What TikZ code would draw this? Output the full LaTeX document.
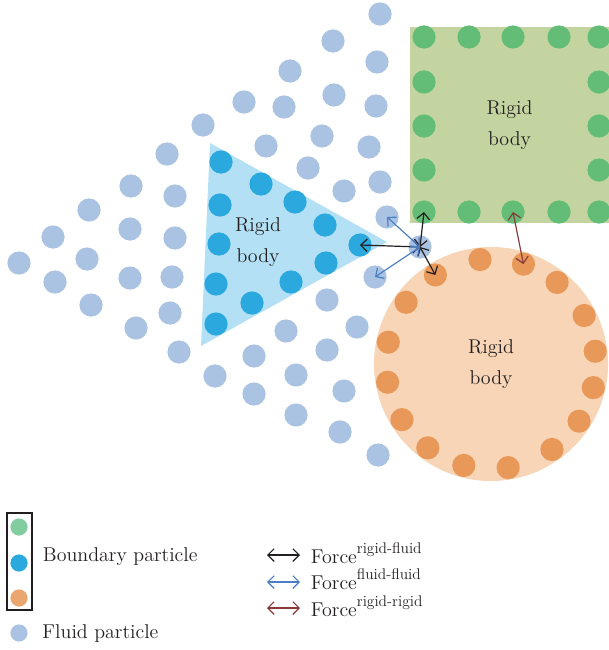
\documentclass[tikz,border=0pt]{standalone}
\usepackage{xcolor}
\usepackage{tikz}
\usetikzlibrary{calc,positioning,arrows.meta}
\definecolor{inkgray}{HTML}{231F20}
\definecolor{fluidblue}{HTML}{ABC3E3}
\definecolor{tricyan}{HTML}{2BA8DE}
\definecolor{trifill}{HTML}{B3E0F4}
\definecolor{boxfill}{HTML}{C3D4A0}
\definecolor{boxgreen}{HTML}{63BD76}
\definecolor{ringfill}{HTML}{F8D5B6}
\definecolor{ringorange}{HTML}{E8995A}
\definecolor{keygreen}{HTML}{82CCA0}
\definecolor{keyorange}{HTML}{EBA56E}
\definecolor{ffblue}{HTML}{4A7EC5}
\definecolor{rrred}{HTML}{8B3A3A}
\newcommand{\forcesup}[1]{Force\raisebox{7pt}{\fontsize{11}{12}\selectfont #1}}

\begin{document}
\begin{tikzpicture}[x=0.025cm, y=-0.025cm, font=\fontsize{14.2}{22}\selectfont, text=inkgray,
  part/.style={circle, inner sep=0pt, minimum size=5.8mm},
  fluidpt/.style={part, fill=fluidblue},
  tripart/.style={part, fill=tricyan},
  boxpart/.style={part, fill=boxgreen},
  ringpart/.style={part, fill=ringorange},
  keypart/.style={circle, inner sep=0pt, minimum size=4.3mm},
  forcetip/.style={line width=0.85pt, {Straight Barb[length=4.5pt,width=9pt]}-{Straight Barb[length=4.5pt,width=9pt]}},
  rfarrow/.style={forcetip, draw=inkgray},
  ffarrow/.style={forcetip, draw=ffblue},
  rrarrow/.style={forcetip, draw=rrred}]
  \useasboundingbox (0,0) rectangle (609,650);

  % rigid bodies
  \node[fill=boxfill, minimum width=4.975cm, minimum height=4.9cm, inner sep=0pt, align=center] (box) at (509.5,125) {Rigid\\body};
  \node[circle, fill=ringfill, minimum size=5.85cm, inner sep=0pt, align=center] (ring) at (491,364) {Rigid\\body};
  \coordinate (ta) at (210,143);
  \coordinate (tb) at (387,242);
  \coordinate (tc) at (201,346);
  \fill[trifill] (ta) -- (tb) -- (tc) -- cycle;
  \node[align=center] (tri) at (258,242) {Rigid\\body};

  % fluid particles
  \foreach \x/\y [count=\i] in {380/14,333/41,377/62,290/71,334/95,376/106,244/102,284/107,
      203/125,322/136,369/147,266/146,167/154,308/168,344/191,380/182,131/186,175/196,
      89/210,130/229,53/237,175/238,19/263,87/259,55/282,130/278,172/277,91/305,136/328,
      170/313,179/352,327/300,357/327,286/331,254/356,327/350,215/376,296/375,344/391,
      254/394,296/415,340/432,378/455}
    \node[fluidpt] (f\i) at (\x,\y) {};
  \node[fluidpt] (fu) at (387,217) {};
  \node[fluidpt] (fd) at (375,277) {};
  \node[fluidpt] (pc) at (420,247) {};

  % boundary particles
  \foreach \x/\y [count=\i] in {221/162,261/184,295/202,325/225,360/245,326/263,291/282,
      252/303,216/324,216/284,219/244,220/205}
    \node[tripart] (b\i) at (\x,\y) {};
  \foreach \x/\y [count=\i] in {424/37,469/37,513/37,559/37,599/37,424/82,599/82,424/126,
      599/126,424/170,599/170,424/212,469/212,513/212,559/212,599/212}
    \node[boxpart] (g\i) at (\x,\y) {};
  \foreach \a [count=\i] in {-96,-72,-51,-27.5,-7,13,33,54.5,80.6,105,127,148,170,-168,-144,-122}
    \node[ringpart] (o\i) at ($(ring.center)+(\a:105)$) {};

  % forces
  \draw[rfarrow] (pc.center) -- (b5.center);
  \draw[rfarrow] (pc.center) -- (g12.center);
  \draw[rfarrow] (pc.center) -- (o16.center);
  \draw[ffarrow] (pc.center) -- (fu.center);
  \draw[ffarrow] (pc.center) -- (fd.center);
  \draw[rrarrow] (g14.center) -- (o2.center);

  % legend
  \draw[line width=0.8pt, inkgray] (7,513) rectangle (32,610);
  \node[keypart, fill=keygreen] (kg) at (19,527) {};
  \node[keypart, fill=tricyan] (kc) at (19,563) {};
  \node[keypart, fill=keyorange] (ko) at (19,598) {};
  \node[keypart, fill=fluidblue] (kf) at (19,633) {};
  \node[anchor=west] (kbl) at (38,557) {Boundary particle};
  \node[right=2.4mm of kf] (kfl) {Fluid particle};

  \coordinate (k1a) at (267,555);
  \coordinate (k1b) at (300,555);
  \coordinate (k2a) at (267,582);
  \coordinate (k2b) at (300,582);
  \coordinate (k3a) at (267,608);
  \coordinate (k3b) at (300,608);
  \draw[rfarrow] (k1a) -- (k1b);
  \draw[ffarrow] (k2a) -- (k2b);
  \draw[rrarrow] (k3a) -- (k3b);
  \node[anchor=base west] (k1) at (306,563) {\forcesup{rigid-fluid}};
  \node[anchor=base west] (k2) at (306,589) {\forcesup{fluid-fluid}};
  \node[anchor=base west] (k3) at (306,616) {\forcesup{rigid-rigid}};
\end{tikzpicture}
\end{document}
